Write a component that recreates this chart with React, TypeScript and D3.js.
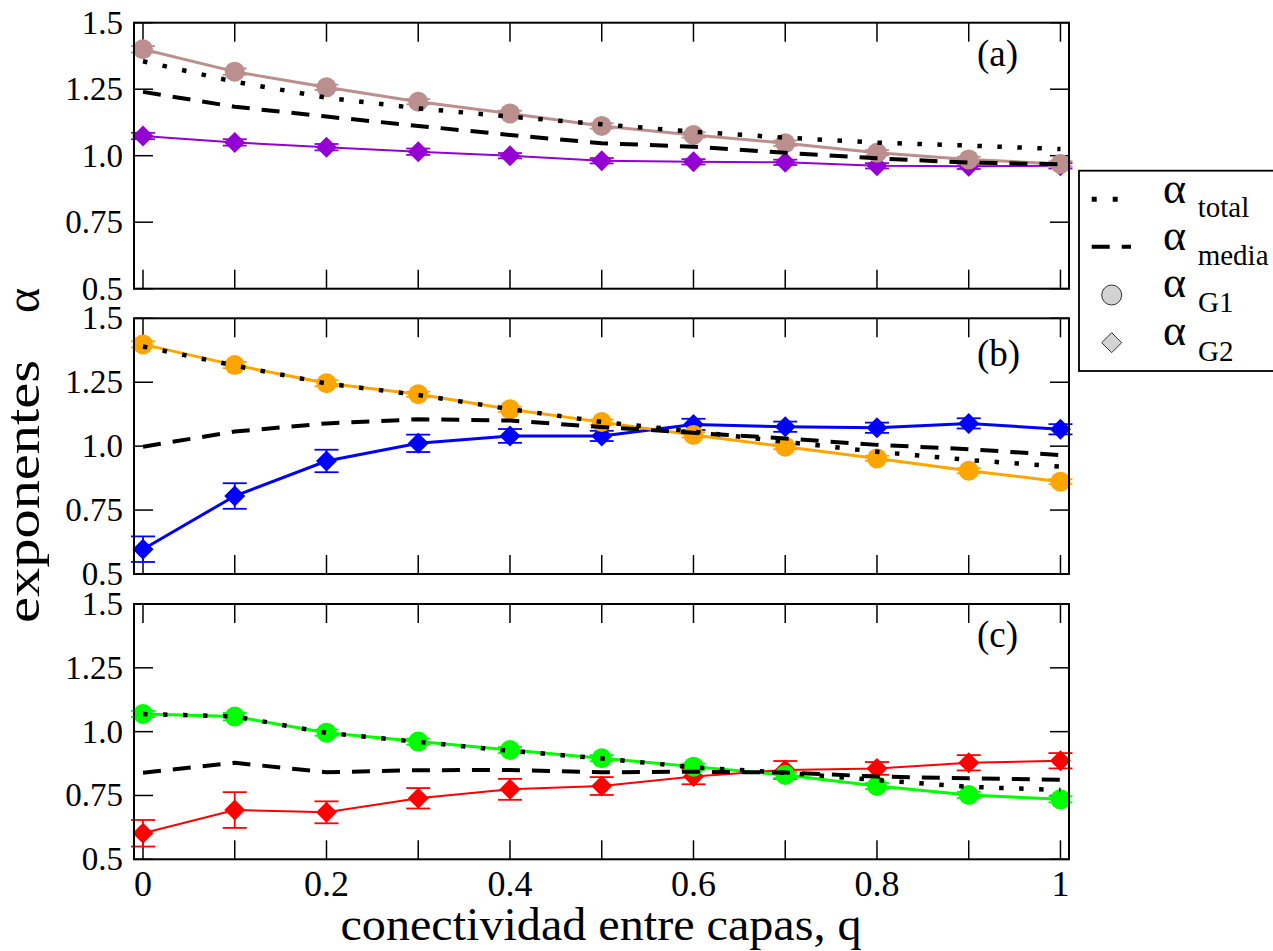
import * as d3 from "d3";

// q values (x axis)
const qVals = [0, 0.1, 0.2, 0.3, 0.4, 0.5, 0.6, 0.7, 0.8, 0.9, 1];
const xTickLabels = ["0", "0.2", "0.4", "0.6", "0.8", "1"];
const yTicks = [0.5, 0.75, 1.0, 1.25, 1.5];
const yTickLabels = ["0.5", "0.75", "1.0", "1.25", "1.5"];

// panel (a)
const aG1 = [1.4, 1.316, 1.257, 1.203, 1.159, 1.112, 1.078, 1.047, 1.011, 0.986, 0.969];
const aG1Err = [0.012, 0.012, 0.01, 0.01, 0.01, 0.01, 0.01, 0.01, 0.01, 0.01, 0.01];
const aG2 = [1.074, 1.05, 1.032, 1.015, 1.0, 0.981, 0.977, 0.975, 0.962, 0.96, 0.962];
const aG2Err = [0.012, 0.012, 0.012, 0.012, 0.01, 0.01, 0.01, 0.01, 0.01, 0.01, 0.01];
const aTotal = [1.355, 1.278, 1.218, 1.178, 1.147, 1.118, 1.09, 1.068, 1.049, 1.038, 1.025];
const aMedia = [1.24, 1.184, 1.147, 1.112, 1.078, 1.047, 1.034, 1.011, 0.99, 0.974, 0.968];

// panel (b)
const bG1 = [1.398, 1.317, 1.246, 1.203, 1.144, 1.094, 1.044, 0.998, 0.952, 0.904, 0.861];
const bG1Err = [0.012, 0.012, 0.012, 0.01, 0.01, 0.01, 0.01, 0.01, 0.01, 0.01, 0.01];
const bG2 = [0.597, 0.805, 0.942, 1.011, 1.04, 1.04, 1.085, 1.076, 1.072, 1.089, 1.066];
const bG2Err = [0.05, 0.05, 0.044, 0.034, 0.027, 0.02, 0.022, 0.02, 0.02, 0.02, 0.02];
const bTotal = [1.39, 1.315, 1.245, 1.2, 1.145, 1.095, 1.057, 1.017, 0.978, 0.946, 0.92];
const bMedia = [0.998, 1.057, 1.089, 1.105, 1.1, 1.075, 1.052, 1.03, 1.005, 0.988, 0.965];

// panel (c)
const cG1 = [1.069, 1.059, 0.996, 0.961, 0.928, 0.896, 0.863, 0.83, 0.787, 0.752, 0.735];
const cG1Err = [0.012, 0.015, 0.012, 0.012, 0.012, 0.012, 0.012, 0.012, 0.012, 0.012, 0.012];
const cG2 = [0.602, 0.693, 0.684, 0.739, 0.774, 0.787, 0.824, 0.85, 0.856, 0.878, 0.886];
const cG2Err = [0.052, 0.07, 0.043, 0.04, 0.041, 0.035, 0.03, 0.035, 0.025, 0.03, 0.03];
const cTotal = [1.069, 1.06, 0.995, 0.96, 0.925, 0.895, 0.86, 0.839, 0.81, 0.784, 0.771];
const cMedia = [0.839, 0.878, 0.841, 0.849, 0.85, 0.841, 0.843, 0.84, 0.824, 0.817, 0.812];

const FONT = "Liberation Serif";
const DOT = { width: 4.5, dash: "4.5 15.5" };
const DASH = { width: 4, dash: "18 12" };

const x = d3.scaleLinear().domain([-0.0098, 1.0093]).range([134, 1069]);

interface PanelProps {
  top: number;
  bottom: number;
  label: string;
  labelY: number;
  g1: number[];
  g1Err: number[];
  g1Color: string;
  g1Width: number;
  g2: number[];
  g2Err: number[];
  g2Color: string;
  g2Width: number;
  total: number[];
  media: number[];
  showXLabels?: boolean;
}

function Panel(p: PanelProps) {
  const y = d3.scaleLinear().domain([0.5, 1.5]).range([p.bottom, p.top]);
  const [x0, x1] = x.range();
  const line = d3.line<number>().x((_, i) => x(qVals[i])).y((d) => y(d));
  const tickLen = 19;
  const diamond = (cx: number, cy: number, r: number) =>
    `M${cx},${cy - r}L${cx + r},${cy}L${cx},${cy + r}L${cx - r},${cy}Z`;

  const errBars = (vals: number[], errs: number[], color: string) =>
    vals.map((v, i) => {
      const cx = x(qVals[i]);
      const t = y(v + errs[i]);
      const b = y(v - errs[i]);
      return (
        <g key={`e${i}`} stroke={color} strokeWidth={1.8}>
          <line x1={cx} x2={cx} y1={t} y2={b} />
          <line x1={cx - 12} x2={cx + 12} y1={t} y2={t} />
          <line x1={cx - 12} x2={cx + 12} y1={b} y2={b} />
        </g>
      );
    });

  return (
    <g>
      {/* ticks */}
      <g stroke="#000" strokeWidth={1.5}>
        {qVals.map((q) => (
          <g key={`xt${q}`}>
            <line x1={x(q)} x2={x(q)} y1={p.bottom} y2={p.bottom - tickLen} />
            <line x1={x(q)} x2={x(q)} y1={p.top} y2={p.top + tickLen} />
          </g>
        ))}
        {yTicks.map((t) => (
          <g key={`yt${t}`}>
            <line x1={x0} x2={x0 + tickLen} y1={y(t)} y2={y(t)} />
            <line x1={x1} x2={x1 - tickLen} y1={y(t)} y2={y(t)} />
          </g>
        ))}
      </g>
      {yTicks.map((t, i) => (
        <text key={`yl${t}`} x={123} y={y(t) + 11} textAnchor="end" style={{ fontFamily: FONT }} fontSize={33}>
          {yTickLabels[i]}
        </text>
      ))}
      {p.showXLabels &&
        xTickLabels.map((l) => (
          <text key={`xl${l}`} x={x(+l)} y={896} textAnchor="middle" style={{ fontFamily: FONT }} fontSize={36}>
            {l}
          </text>
        ))}

      {/* G2 series (diamonds) */}
      <path d={line(p.g2) ?? ""} fill="none" stroke={p.g2Color} strokeWidth={p.g2Width} />
      {errBars(p.g2, p.g2Err, p.g2Color)}
      {p.g2.map((v, i) => (
        <path key={`d${i}`} d={diamond(x(qVals[i]), y(v), 10.5)} fill={p.g2Color} />
      ))}

      {/* G1 series (circles) */}
      <path d={line(p.g1) ?? ""} fill="none" stroke={p.g1Color} strokeWidth={p.g1Width} />
      {errBars(p.g1, p.g1Err, p.g1Color)}
      {p.g1.map((v, i) => (
        <circle key={`c${i}`} cx={x(qVals[i])} cy={y(v)} r={10} fill={p.g1Color} />
      ))}

      {/* media / total */}
      <path d={line(p.media) ?? ""} fill="none" stroke="#000" strokeWidth={DASH.width} strokeDasharray={DASH.dash} />
      <path d={line(p.total) ?? ""} fill="none" stroke="#000" strokeWidth={DOT.width} strokeDasharray={DOT.dash} />

      <rect x={x0} y={p.top} width={x1 - x0} height={p.bottom - p.top} fill="none" stroke="#000" strokeWidth={2} />
      <text x={977} y={p.labelY} style={{ fontFamily: FONT }} fontSize={37}>
        {p.label}
      </text>
    </g>
  );
}

export default function App() {
  return (
    <svg width={1273} height={951} style={{ display: "block", position: "absolute", left: 0, top: 0 }}>
      <rect width={1273} height={951} fill="#fff" />
      <Panel
        top={22.7} bottom={288.7} label="(a)" labelY={65.5}
        g1={aG1} g1Err={aG1Err} g1Color="#bc8f8f" g1Width={3}
        g2={aG2} g2Err={aG2Err} g2Color="#9400d3" g2Width={2}
        total={aTotal} media={aMedia}
      />
      <Panel
        top={318.3} bottom={574} label="(b)" labelY={365.5}
        g1={bG1} g1Err={bG1Err} g1Color="#ffa500" g1Width={3}
        g2={bG2} g2Err={bG2Err} g2Color="#0000ff" g2Width={3}
        total={bTotal} media={bMedia}
      />
      <Panel
        top={604} bottom={859.3} label="(c)" labelY={646.5}
        g1={cG1} g1Err={cG1Err} g1Color="#00ff00" g1Width={3}
        g2={cG2} g2Err={cG2Err} g2Color="#ff0000" g2Width={2}
        total={cTotal} media={cMedia} showXLabels
      />

      {/* axis titles */}
      <text x={601} y={940} textAnchor="middle" style={{ fontFamily: FONT }} fontSize={46} textLength={521} lengthAdjust="spacingAndGlyphs">
        conectividad entre capas, q
      </text>
      <text transform="translate(39,491.5) rotate(-90)" textAnchor="middle" style={{ fontFamily: FONT }} fontSize={48} textLength={263} lengthAdjust="spacingAndGlyphs">
        exponentes
      </text>
      <text transform="translate(39,300.5) rotate(-90)" textAnchor="middle" style={{ fontFamily: FONT }} fontSize={48}>
        α
      </text>

      {/* legend */}
      <g>
        <rect x={1079} y={170.7} width={220} height={200.3} fill="#fff" stroke="#000" strokeWidth={1.8} />
        <line x1={1091.7} x2={1117.7} y1={199.3} y2={199.3} stroke="#000" strokeWidth={5} strokeDasharray="5 16" />
        <line x1={1091.7} x2={1131} y1={246.7} y2={246.7} stroke="#000" strokeWidth={4} strokeDasharray="18 12" />
        <circle cx={1111.7} cy={295} r={10} fill="#d3d3d3" stroke="#333" strokeWidth={1} />
        <path d="M1111.7,332.7L1121.7,342.7L1111.7,352.7L1101.7,342.7Z" fill="#d3d3d3" stroke="#333" strokeWidth={1} />
        <g style={{ fontFamily: FONT }}>
          <text x={1163} y={202.7} fontSize={44}>α</text>
          <text x={1197.7} y={216.7} fontSize={29}>total</text>
          <text x={1163} y={250} fontSize={44}>α</text>
          <text x={1197.7} y={265} fontSize={29}>media</text>
          <text x={1163} y={296.7} fontSize={44}>α</text>
          <text x={1198} y={312.3} fontSize={29}>G1</text>
          <text x={1163} y={345} fontSize={44}>α</text>
          <text x={1198} y={360.7} fontSize={29}>G2</text>
        </g>
      </g>
    </svg>
  );
}
